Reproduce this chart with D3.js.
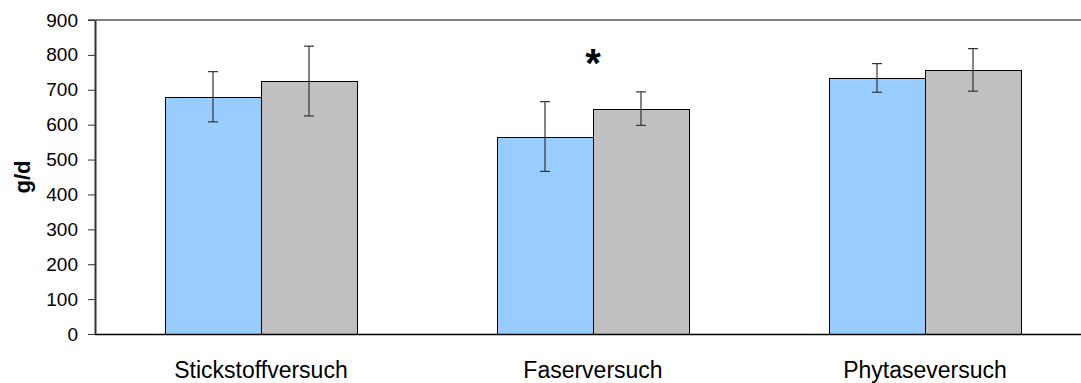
<!DOCTYPE html>
<html>
<head>
<meta charset="utf-8">
<script src="https://cdn.jsdelivr.net/npm/d3@7"></script>
<style>
  body { margin: 0; background: #fff; }
  svg { font-family: "Liberation Sans", Arial, sans-serif; }
</style>
</head>
<body>
<div id="chart"></div>
<script>
const SVG_WIDTH = 1081;
const SVG_HEIGHT = 383;

// data
const categories = ["Stickstoffversuch", "Faserversuch", "Phytaseversuch"];
const series = ["blau", "grau"];
const meanBlue = [680, 566, 734];
const errBlue  = [72, 100, 41];
const meanGray = [725, 646, 757];
const errGray  = [100, 48, 61];
const yTicks = [0, 100, 200, 300, 400, 500, 600, 700, 800, 900];
const significant = ["Faserversuch"];

const COLORS = { blau: "#99CCFF", grau: "#C0C0C0" };

var margin = {top: 20, left: 95, bottom: 49},
    plotRight = 1091; // plot area runs past the picture edge

var svg = d3.select("#chart")
    .append("svg")
    .attr("width", SVG_WIDTH)
    .attr("height", SVG_HEIGHT);

var y = d3.scaleLinear()
    .domain([0, 900])
    .range([SVG_HEIGHT - margin.bottom, margin.top]);

var x = d3.scaleBand()
    .domain(categories)
    .range([margin.left, plotRight])
    .paddingInner(0.4217)
    .paddingOuter(0.2108);

var xSub = d3.scaleBand()
    .domain(series)
    .range([0, x.bandwidth()]);

// build rows for drawing
var rows = [];
categories.forEach(function(c, i) {
    rows.push({cat: c, s: "blau", v: meanBlue[i], e: errBlue[i]});
    rows.push({cat: c, s: "grau", v: meanGray[i], e: errGray[i]});
});

// top border of plot area
svg.append("line")
    .attr("x1", margin.left - 7).attr("x2", SVG_WIDTH)
    .attr("y1", y(900)).attr("y2", y(900))
    .attr("stroke", "#808080").attr("stroke-width", 2);

// bars
svg.selectAll(".bar")
    .data(rows)
    .enter()
    .append("rect")
    .attr("class", "bar")
    .attr("x", function(d) { return x(d.cat) + xSub(d.s) + 0.5; })
    .attr("y", function(d) { return Math.round(y(d.v)) + 0.5; })
    .attr("width", xSub.bandwidth())
    .attr("height", function(d) { return y(0) - Math.round(y(d.v)); })
    .attr("fill", function(d) { return COLORS[d.s]; })
    .attr("stroke", "#000")
    .attr("stroke-width", 1);

// error bars
var err = svg.selectAll(".err")
    .data(rows)
    .enter()
    .append("g")
    .attr("class", "err")
    .attr("stroke", "#333")
    .attr("stroke-width", 1.2);

err.append("line")
    .attr("x1", function(d) { return x(d.cat) + xSub(d.s) + xSub.bandwidth() / 2; })
    .attr("x2", function(d) { return x(d.cat) + xSub(d.s) + xSub.bandwidth() / 2; })
    .attr("y1", function(d) { return y(d.v + d.e); })
    .attr("y2", function(d) { return y(d.v - d.e); });

[1, -1].forEach(function(sign) {
    err.append("line")
        .attr("x1", function(d) { return x(d.cat) + xSub(d.s) + xSub.bandwidth() / 2 - 5; })
        .attr("x2", function(d) { return x(d.cat) + xSub(d.s) + xSub.bandwidth() / 2 + 5; })
        .attr("y1", function(d) { return y(d.v + sign * d.e); })
        .attr("y2", function(d) { return y(d.v + sign * d.e); });
});

// y axis
var yAxis = svg.append("g")
    .attr("transform", "translate(" + margin.left + ",0)")
    .call(d3.axisLeft(y).tickValues(yTicks).tickSize(7).tickPadding(10).tickSizeOuter(0));
yAxis.select(".domain").attr("stroke", "#333").attr("stroke-width", 2);
yAxis.selectAll(".tick line").attr("stroke", "#333");
yAxis.selectAll(".tick text")
    .attr("font-size", 19)
    .attr("fill", "#000")
    .attr("font-family", "Liberation Sans, Arial, sans-serif");

// x axis line
svg.append("line")
    .attr("x1", margin.left).attr("x2", SVG_WIDTH)
    .attr("y1", y(0) + 0.5).attr("y2", y(0) + 0.5)
    .attr("stroke", "#000").attr("stroke-width", 1.5);

// category labels
svg.selectAll(".cat")
    .data(categories)
    .enter()
    .append("text")
    .attr("class", "cat")
    .attr("x", function(d) { return x(d) + x.bandwidth() / 2; })
    .attr("y", 378)
    .attr("text-anchor", "middle")
    .attr("font-size", 23)
    .text(function(d) { return d; });

// y title
svg.append("text")
    .attr("transform", "translate(30,177) rotate(-90)")
    .attr("text-anchor", "middle")
    .attr("font-size", 22)
    .attr("font-weight", "bold")
    .text("g/d");

// significance star
svg.selectAll(".star")
    .data(significant)
    .enter()
    .append("text")
    .attr("class", "star")
    .attr("x", function(d) { return x(d) + x.bandwidth() / 2; })
    .attr("y", 77)
    .attr("text-anchor", "middle")
    .attr("font-size", 40)
    .attr("font-weight", "bold")
    .text("*");
</script>
</body>
</html>
